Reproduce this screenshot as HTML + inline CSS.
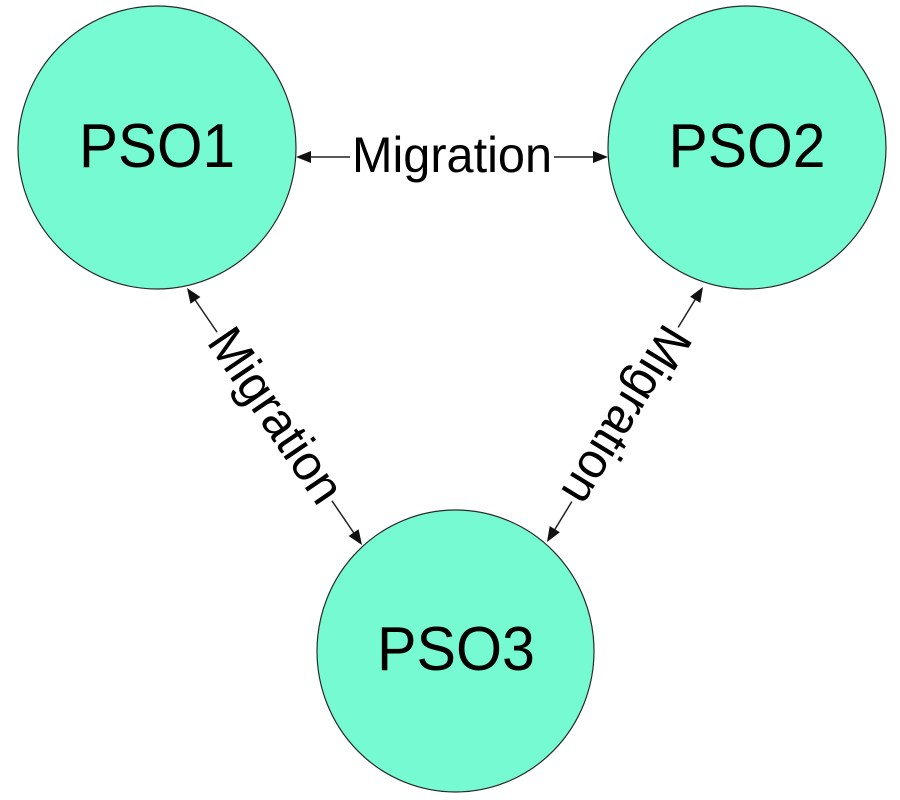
<!DOCTYPE html>
<html>
<head>
<meta charset="utf-8">
<style>
  html, body { margin: 0; padding: 0; background: #ffffff; }
  svg { display: block; }
  text { font-family: "Liberation Sans", Arial, sans-serif; fill: #000; }
</style>
</head>
<body>
<svg width="900" height="800" viewBox="0 0 900 800" xmlns="http://www.w3.org/2000/svg">
  <rect width="900" height="800" fill="#ffffff"/>

  <!-- Circles -->
  <ellipse cx="157" cy="147.5" rx="139" ry="141.5" fill="#75FAD1" stroke="#2a2a2a" stroke-width="1.2"/>
  <ellipse cx="747" cy="147.5" rx="139" ry="141.5" fill="#75FAD1" stroke="#2a2a2a" stroke-width="1.2"/>
  <ellipse cx="455.5" cy="651" rx="138.5" ry="141" fill="#75FAD1" stroke="#2a2a2a" stroke-width="1.2"/>

  <text x="157" y="167" font-size="62" text-anchor="middle" textLength="156" lengthAdjust="spacingAndGlyphs">PSO1</text>
  <text x="747" y="167" font-size="62" text-anchor="middle" textLength="157" lengthAdjust="spacingAndGlyphs">PSO2</text>
  <text x="456" y="670" font-size="62" text-anchor="middle" textLength="158" lengthAdjust="spacingAndGlyphs">PSO3</text>

  <!-- Horizontal connector -->
  <line x1="300" y1="157" x2="604" y2="157" stroke="#222" stroke-width="1.5"/>
  <polygon points="296,157 311,151 311,163" fill="#111"/>
  <polygon points="608,157 593,151 593,163" fill="#111"/>
  <rect x="350" y="135" width="204" height="44" fill="#ffffff"/>
  <text x="452" y="172" font-size="50" text-anchor="middle" textLength="200" lengthAdjust="spacingAndGlyphs">Migration</text>

  <!-- Left diagonal connector -->
  <line x1="189" y1="291" x2="360" y2="542" stroke="#222" stroke-width="1.5"/>
  <polygon points="187,288 190.5,303.8 200.4,297.0" fill="#111"/>
  <polygon points="362,545 348.6,536.0 358.6,529.2" fill="#111"/>
  <g transform="translate(274.5,416.5) rotate(55.75)">
    <rect x="-102" y="-20" width="204" height="40" fill="#ffffff"/>
    <text x="0" y="15" font-size="50" text-anchor="middle" textLength="200" lengthAdjust="spacingAndGlyphs">Migration</text>
  </g>

  <!-- Right diagonal connector -->
  <line x1="701" y1="290" x2="549" y2="539" stroke="#222" stroke-width="1.5"/>
  <polygon points="703,287 690.1,296.7 700.3,302.9" fill="#111"/>
  <polygon points="547,542 549.7,526.1 559.9,532.3" fill="#111"/>
  <g transform="translate(625,414.5) rotate(121.46)">
    <rect x="-102" y="-20" width="204" height="40" fill="#ffffff"/>
    <text x="0" y="15" font-size="50" text-anchor="middle" textLength="200" lengthAdjust="spacingAndGlyphs">Migration</text>
  </g>
</svg>
</body>
</html>
